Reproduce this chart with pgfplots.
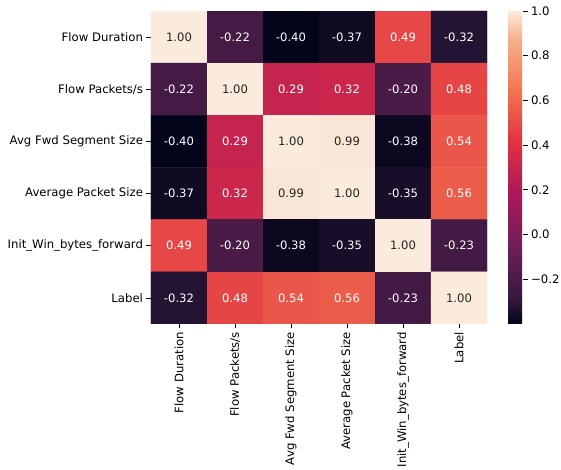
\documentclass[border=0pt]{standalone}
\usepackage{pgfplots}
\usepackage{pgfplotstable}
\usepackage{fontspec}
\setmainfont{DejaVu Sans}
\pgfplotsset{compat=1.18}

% Correlation matrix: column index x, row index y, coefficient c
\pgfplotstableread{
x y c
0 0 1.00
1 0 -0.22
2 0 -0.40
3 0 -0.37
4 0 0.49
5 0 -0.32
0 1 -0.22
1 1 1.00
2 1 0.29
3 1 0.32
4 1 -0.20
5 1 0.48
0 2 -0.40
1 2 0.29
2 2 1.00
3 2 0.99
4 2 -0.38
5 2 0.54
0 3 -0.37
1 3 0.32
2 3 0.99
3 3 1.00
4 3 -0.35
5 3 0.56
0 4 0.49
1 4 -0.20
2 4 -0.38
3 4 -0.35
4 4 1.00
5 4 -0.23
0 5 -0.32
1 5 0.48
2 5 0.54
3 5 0.56
4 5 -0.23
5 5 1.00
}\corrtable

\definecolor{darktext}{HTML}{262626}

\newcommand{\ticklabelfont}{\fontsize{11.7}{14}\selectfont}
\newcommand{\cellfont}{\fontsize{11.6}{14}\selectfont}

\pgfplotsset{
  colormap={rocket}{
    rgb255(0)=(3,5,26)
    rgb255(83)=(53,25,62)
    rgb255(250)=(112,31,87)
    rgb255(417)=(173,23,89)
    rgb255(583)=(225,51,66)
    rgb255(750)=(243,118,81)
    rgb255(917)=(246,180,143)
    rgb255(1000)=(250,235,221)
  },
  colorbar shift/.style={xshift=21pt},
  cell labels/.style={
    only marks, mark=none,
    point meta=explicit symbolic,
    nodes near coords={\pgfplotspointmeta},
    every node near coord/.style={anchor=center, text=#1, font=\cellfont},
  },
}

\begin{document}
\begin{tikzpicture}[font=\ticklabelfont]
\begin{axis}[
  name=hm,
  scale only axis,
  width=336pt, height=313pt,
  xmin=-0.5, xmax=5.5, ymin=-0.5, ymax=5.5,
  y dir=reverse,
  enlargelimits=false,
  axis line style={draw=none},
  tick align=outside,
  major tick length=4.5pt,
  tick style={black, line width=0.7pt},
  tick label style={font=\ticklabelfont},
  xtick pos=bottom, ytick pos=left,
  xtick={0,...,5}, ytick={0,...,5},
  xticklabels={Flow Duration, Flow Packets/s, Avg Fwd Segment Size, Average Packet Size, Init\_Win\_bytes\_forward, Label},
  yticklabels={Flow Duration, Flow Packets/s, Avg Fwd Segment Size, Average Packet Size, Init\_Win\_bytes\_forward, Label},
  xticklabel style={rotate=90, anchor=east},
  colormap name=rocket,
  point meta min=-0.40, point meta max=1.0,
  colorbar,
  colorbar style={
    at={(parent axis.north east)}, anchor=north west,
    width=15pt,
    axis line style={draw=none},
    ytick={-0.2,0,0.2,0.4,0.6,0.8,1.0},
    yticklabels={−0.2,0.0,0.2,0.4,0.6,0.8,1.0},
    tick align=outside,
    major tick length=4.5pt,
    tick style={black, line width=0.7pt},
    tick label style={font=\ticklabelfont},
    ytick pos=right, yticklabel pos=right,
  },
]
% coloured cells
\addplot[matrix plot*, mesh/cols=6, point meta=explicit]
  table[x=x, y=y, meta=c] {\corrtable};
% annotations: light text on dark cells, dark text on light cells
\addplot[cell labels=white, restrict expr to domain={\thisrow{c}}{-1:0.9}]
  table[x=x, y=y, meta=c] {\corrtable};
\addplot[cell labels=darktext, restrict expr to domain={\thisrow{c}}{0.9:1.1}]
  table[x=x, y=y, meta=c] {\corrtable};
\end{axis}
\pgfresetboundingbox
\path[use as bounding box] (hm.north west) ++(-151pt,11pt) rectangle ++(561pt,-470pt);
\end{tikzpicture}
\end{document}
